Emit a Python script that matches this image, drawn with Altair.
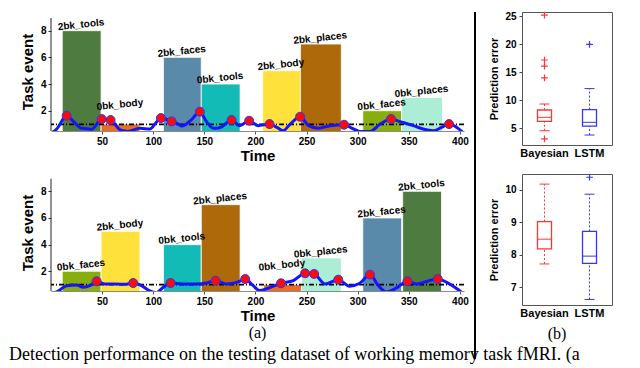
import altair as alt
import pandas as pd

FONT = "Liberation Sans"
SERIF = "Liberation Serif"

# ---------------- panel (a): task events ----------------
task_names = ["2bk_tools", "0bk_body", "2bk_faces", "0bk_tools",
              "2bk_body", "2bk_places", "0bk_faces", "0bk_places"]
task_colors = ["#4e7b3f", "#ec6b24", "#5a8aa9", "#12bbb5",
               "#fee13b", "#ae690a", "#87ad0e", "#abeed5"]

top_task = ["2bk_tools", "0bk_body", "2bk_faces", "0bk_tools",
            "2bk_body", "2bk_places", "0bk_faces", "0bk_places"]
top_start = [11, 49, 110, 147, 207, 244, 305, 343]
top_end = [49, 87, 147, 185, 244, 284, 343, 383]
top_height = [8, 1, 6, 4, 5, 7, 2, 3]

top_curve_x = [0, 5.6, 15.3, 22, 30, 40, 49.5, 58.3, 67.5, 75,
               87, 96.8, 103, 107.5, 118, 124.5, 128, 137, 145.6, 152,
               158.7, 165, 176.6, 184.7, 193.8, 202.6, 213.8, 221, 227, 234,
               243.7, 252, 261.7, 273, 286.7, 296, 302, 312, 322, 332.7,
               341.5, 354.5, 364, 374, 382, 389.4, 397, 404]
top_curve_y = [0.3, 0.63, 1.62, 1.2, 0.68, 0.62, 1.38, 1.3, 0.57, 0.45,
               0.68, 0.63, 1.13, 1.45, 1.2, 1.0, 0.85, 1.3, 1.93, 1.2,
               0.68, 0.72, 1.3, 0.88, 1.25, 0.88, 1.0, 0.75, 0.5, 1.0,
               1.55, 0.88, 0.68, 0.88, 0.95, 0.63, 0.45, 0.45, 1.0, 1.38,
               1.18, 0.88, 0.63, 0.5, 0.75, 1.0, 0.75, 0.3]
top_peak_x = [15.3, 49.5, 58.3, 107.5, 118, 145.6, 176.6, 193.8, 213.8, 243.7, 286.7, 332.7, 389.4]
top_peak_y = [1.62, 1.38, 1.3, 1.45, 1.2, 1.93, 1.3, 1.25, 1.0, 1.55, 0.95, 1.38, 1.0]

bot_task = ["0bk_faces", "2bk_body", "0bk_tools", "2bk_places",
            "0bk_body", "0bk_places", "2bk_faces", "2bk_tools"]
bot_start = [11, 49, 110, 147, 208, 245, 305, 344]
bot_end = [49, 87, 147, 185, 245, 284, 343, 382]
bot_height = [2, 5, 4, 7, 1, 3, 6, 8]

bot_curve_x = [0, 7, 15.3, 25, 31.6, 38, 44.6, 52.8, 64, 72,
               80.4, 88.6, 96.8, 103, 109.8, 117, 129, 142, 152, 161,
               171.7, 183, 190, 197.8, 204, 212, 225, 237, 248.6, 257.4,
               268, 281, 292, 302, 312, 320, 328, 338, 348.7, 357.8,
               368, 378.3, 387, 395, 400, 404]
bot_curve_y = [0.3, 0.52, 0.92, 0.97, 0.8, 0.92, 1.25, 1.05, 1.05, 1.02,
               1.12, 0.92, 0.52, 0.4, 0.8, 1.12, 1.05, 1.05, 1.12, 1.3,
               1.05, 1.2, 1.42, 0.92, 0.55, 0.72, 1.1, 1.3, 1.85, 1.8,
               1.05, 1.37, 0.88, 1.1, 1.75, 0.95, 0.45, 0.75, 1.25, 1.05,
               1.25, 1.42, 1.17, 0.8, 0.52, 0.3]
bot_peak_x = [44.6, 80.4, 117, 161, 190, 225, 248.6, 257.4, 281, 312, 348.7, 378.3]
bot_peak_y = [1.25, 1.12, 1.12, 1.3, 1.42, 1.1, 1.85, 1.8, 1.37, 1.75, 1.25, 1.42]

thresholds = [0.98, 1.0]
time_ticks = [50, 100, 150, 200, 250, 300, 350, 400]
event_ticks = [2, 4, 6, 8]

caption_text = "Detection performance on the testing dataset of working memory task fMRI. (a"

# ---------------- panel (b): prediction error box plots ----------------
methods = ["Bayesian", "LSTM"]
method_colors = ["#ff3535", "#3535ff"]

b1_q1 = [6.25, 5.4]
b1_med = [6.96, 6.07]
b1_q3 = [8.27, 8.35]
b1_lo = [4.57, 3.8]
b1_hi = [9.34, 12.1]
b1_out_method = ["Bayesian", "Bayesian", "Bayesian", "Bayesian", "Bayesian", "LSTM"]
b1_out_value = [25.2, 17.2, 16.1, 14.0, 3.1, 20.0]
b1_ticks = [5, 10, 15, 20, 25]

b2_q1 = [8.18, 7.74]
b2_med = [8.48, 7.96]
b2_q3 = [9.02, 8.72]
b2_lo = [7.72, 6.63]
b2_hi = [10.17, 9.86]
b2_out_method = ["LSTM"]
b2_out_value = [10.38]
b2_ticks = [7, 8, 9, 10]


def event_panel(tasks, starts, ends, heights, cx, cy, px, py, thr,
                height, ydom, extra=None, title=None):
    xs = alt.Scale(domain=[0, 404], nice=False, zero=False)
    ys = alt.Scale(domain=ydom, nice=False, zero=False)
    xaxis = alt.Axis(values=time_ticks, tickCount=20, format="d", title="Time",
                     labelFont=FONT, labelFontSize=10, labelFontWeight="bold",
                     labelColor="black", titleFont=FONT, titleFontSize=15,
                     titleFontWeight="bold", titleColor="black", tickSize=3,
                     labelPadding=2, titlePadding=2, grid=False, labelOverlap=False,
                     domainColor="#8a8a8a", tickColor="#555555")
    yaxis = alt.Axis(values=event_ticks, tickCount=20, format="d", title="Task event",
                     labelFont=FONT, labelFontSize=10, labelFontWeight="bold",
                     labelColor="black", titleFont=FONT, titleFontSize=15,
                     titleFontWeight="bold", titleColor="black", tickSize=3,
                     labelPadding=2, titlePadding=5, grid=False, labelOverlap=False,
                     domain=False, tickColor="#333333")
    bars_df = pd.DataFrame({"task": tasks, "start": starts, "end": ends, "h": heights})
    curve_df = pd.DataFrame({"t": cx, "v": cy})
    peak_df = pd.DataFrame({"t": px, "v": py})

    bars = alt.Chart(bars_df).mark_rect(stroke="white", strokeWidth=0.8, clip=True).encode(
        x=alt.X("start:Q", scale=xs, axis=xaxis),
        x2="end:Q",
        y=alt.Y("h:Q", scale=ys, axis=yaxis),
        y2=alt.datum(0),
        color=alt.Color("task:N", scale=alt.Scale(domain=task_names, range=task_colors), legend=None),
    )
    yline = alt.Chart(pd.DataFrame({"a": [ydom[0]], "b": [8.95]})).mark_rule(
        color="#222222", strokeWidth=1).encode(x=alt.datum(0), y="a:Q", y2="b:Q")
    thr_rule = alt.Chart(pd.DataFrame({"thr": [thr]})).mark_rule(
        color="black", strokeWidth=1.6, strokeDash=[5, 2, 1, 2]).encode(y="thr:Q")
    line = alt.Chart(curve_df).mark_line(
        color="#1414ff", strokeWidth=3, interpolate="monotone", clip=True).encode(
        x="t:Q", y="v:Q")
    dots = alt.Chart(peak_df).mark_circle(
        size=80, color="#ff0a0a", opacity=1, stroke="#3030ff", strokeWidth=1).encode(
        x="t:Q", y="v:Q")
    labels = alt.Chart(bars_df).transform_calculate(
        mid="(datum.start + datum.end) / 2", ly="max(datum.h, 2)"
    ).mark_text(angle=354, align="center", baseline="bottom", dy=-1,
                font=FONT, fontSize=10, fontWeight="bold", color="black").encode(
        x="mid:Q", y="ly:Q", text="task:N")
    layers = [bars, yline, thr_rule, line, dots, labels]
    if extra is not None:
        layers.append(extra)
    ch = alt.layer(*layers).properties(width=413, height=height)
    if title is not None:
        ch = ch.properties(title=title)
    return ch


def box_panel(q1, med, q3, lo, hi, om, ov, ticks, height, ydom, extra=None, title=None):
    xs = alt.Scale(domain=methods, paddingInner=0.689, paddingOuter=0.344)
    ys = alt.Scale(domain=ydom, nice=False, zero=False)
    col = alt.Color("method:N", scale=alt.Scale(domain=methods, range=method_colors), legend=None)
    xaxis = alt.Axis(title=None, labelAngle=0, labelFont=FONT, labelFontSize=11,
                     labelFontWeight="bold", labelColor="black", ticks=False,
                     domain=False, labelPadding=2)
    yaxis = alt.Axis(values=ticks, tickCount=20, format="d", title="Prediction error",
                     labelFont=FONT, labelFontSize=10, labelFontWeight="bold",
                     labelColor="black", titleFont=FONT, titleFontSize=11,
                     titleFontWeight="bold", titleColor="black", tickSize=3,
                     labelPadding=3, titlePadding=5, grid=False, domain=False,
                     labelOverlap=False, tickColor="#444444")
    df = pd.DataFrame({"method": methods, "q1": q1, "med": med, "q3": q3, "lo": lo, "hi": hi})
    odf = pd.DataFrame({"method": om, "val": ov})
    base = alt.Chart(df)
    box = base.mark_bar(fillOpacity=0, strokeWidth=1.3).encode(
        x=alt.X("method:N", scale=xs, axis=xaxis, sort=methods),
        y=alt.Y("q1:Q", scale=ys, axis=yaxis), y2="q3:Q",
        stroke=alt.Stroke("method:N", scale=alt.Scale(domain=methods, range=method_colors), legend=None))
    w_up = base.mark_rule(strokeWidth=1, strokeDash=[2, 2]).encode(
        x="method:N", y="q3:Q", y2="hi:Q", color=col)
    w_dn = base.mark_rule(strokeWidth=1, strokeDash=[2, 2]).encode(
        x="method:N", y="lo:Q", y2="q1:Q", color=col)
    cap_hi = base.mark_tick(size=10, thickness=1, opacity=1).encode(
        x="method:N", y="hi:Q", color=col)
    cap_lo = base.mark_tick(size=10, thickness=1, opacity=1).encode(
        x="method:N", y="lo:Q", color=col)
    median = base.mark_tick(size=14, thickness=1, opacity=1).encode(
        x="method:N", y="med:Q", color=col)
    outl = alt.Chart(odf).mark_point(shape="M-1,0L1,0M0,-1L0,1", size=45, filled=False,
                                     strokeWidth=1.2, opacity=1).encode(
        x="method:N", y="val:Q", color=col)
    layers = [box, w_up, w_dn, cap_hi, cap_lo, median, outl]
    if extra is not None:
        layers.append(extra)
    ch = alt.layer(*layers).properties(
        width=90, height=height,
        view=alt.ViewBackground(stroke="#555555", strokeWidth=1))
    if title is not None:
        ch = ch.properties(title=title)
    return ch


caption = alt.Chart(pd.DataFrame({"c": [caption_text]})).mark_text(
    x=-42, y=347.5, align="left", baseline="alphabetic", font=SERIF, fontSize=18,
    color="black", limit=624, ellipsis="").encode(text="c:N")

separator = alt.Chart(pd.DataFrame({"s": [0]})).mark_rule(
    color="black", strokeWidth=2).encode(
    x=alt.value(-47), y=alt.value(0), y2=alt.value(347))

top_a = event_panel(top_task, top_start, top_end, top_height, top_curve_x, top_curve_y,
                    top_peak_x, top_peak_y, thresholds[0], 119, [0.48, 9.4], extra=caption)
bot_a = event_panel(bot_task, bot_start, bot_end, bot_height, bot_curve_x, bot_curve_y,
                    bot_peak_x, bot_peak_y, thresholds[1], 117, [0.52, 9.3],
                    title=alt.TitleParams("(a)", orient="bottom", font=SERIF, fontSize=16,
                                          fontWeight="normal", color="black", offset=2))
top_b = box_panel(b1_q1, b1_med, b1_q3, b1_lo, b1_hi, b1_out_method, b1_out_value,
                  b1_ticks, 133, [2.02, 25.77], extra=separator)
bot_b = box_panel(b2_q1, b2_med, b2_q3, b2_lo, b2_hi, b2_out_method, b2_out_value,
                  b2_ticks, 131, [6.46, 10.48],
                  title=alt.TitleParams("(b)", orient="bottom", font=SERIF, fontSize=16,
                                        fontWeight="normal", color="black", offset=8, dx=-10))

chart = alt.concat(top_a, top_b, bot_a, bot_b, columns=2,
                   spacing={"row": 29, "column": 58}, bounds="flush").resolve_scale(
    color="independent", stroke="independent"
).properties(padding=0, background="white").configure_view(stroke="transparent")

chart.save("out.html", embed_options={"renderer": "svg", "actions": False})
